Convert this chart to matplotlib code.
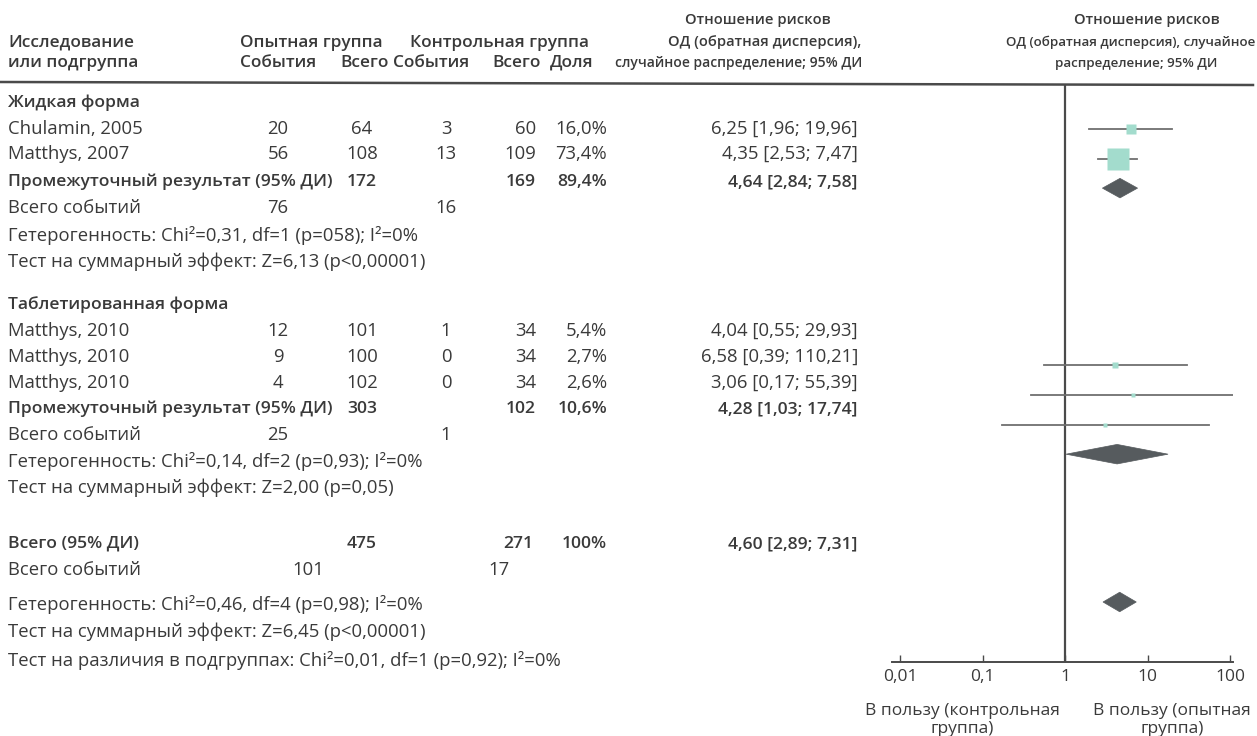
import matplotlib
matplotlib.use("Agg")
import matplotlib.pyplot as plt
from matplotlib.patches import Polygon
import numpy as np

# ---------------- data ----------------
studies = ["Chulamin, 2005", "Matthys, 2007", "Matthys, 2010", "Matthys, 2010", "Matthys, 2010"]
exp_events = [20, 56, 12, 9, 4]
exp_total = [64, 108, 101, 100, 102]
ctl_events = [3, 13, 1, 0, 0]
ctl_total = [60, 109, 34, 34, 34]
weights = [16.0, 73.4, 5.4, 2.7, 2.6]
rr = [6.25, 4.35, 4.04, 6.58, 3.06]
ci_lo = [1.96, 2.53, 0.55, 0.39, 0.17]
ci_hi = [19.96, 7.47, 29.93, 110.21, 55.39]
study_group = [0, 0, 1, 1, 1]

group_names = ["Жидкая форма", "Таблетированная форма"]
sub_exp_total = [172, 303]
sub_ctl_total = [169, 102]
sub_weight = [89.4, 10.6]
sub_rr = [4.64, 4.28]
sub_lo = [2.84, 1.03]
sub_hi = [7.58, 17.74]
sub_exp_events = [76, 25]
sub_ctl_events = [16, 1]
sub_het = ["Гетерогенность: Chi²=0,31, df=1 (p=058); I²=0%",
           "Гетерогенность: Chi²=0,14, df=2 (p=0,93); I²=0%"]
sub_test = ["Тест на суммарный эффект: Z=6,13 (p<0,00001)",
            "Тест на суммарный эффект: Z=2,00 (p=0,05)"]

tot_exp_total = 475
tot_ctl_total = 271
tot_weight = 100
tot_rr, tot_lo, tot_hi = 4.60, 2.89, 7.31
tot_exp_events = 101
tot_ctl_events = 17
tot_het = "Гетерогенность: Chi²=0,46, df=4 (p=0,98); I²=0%"
tot_test = "Тест на суммарный эффект: Z=6,45 (p<0,00001)"
sub_diff = "Тест на различия в подгруппах: Chi²=0,01, df=1 (p=0,92); I²=0%"

xticks = [0.01, 0.1, 1, 10, 100]
xtick_labels = ["0,01", "0,1", "1", "10", "100"]

# rows of the forest panel (row index units)
study_rows = [0, 1, 8, 9, 10]
sub_rows = [2, 11]
tot_row = 16

# ---------------- layout ----------------
W, H = 1257, 736
FONT = ["Open Sans", "DejaVu Sans"]
FS = 13.3
FSB = 12.6
FSL = 12.4   # left header
FSR = 10.0   # right-hand headers
TC = "#3a3a3a"

fig = plt.figure(figsize=(W / 100, H / 100), dpi=100)
fig.patch.set_facecolor("white")


def T(x, y, s, ha="left", weight="normal", size=FS):
    fig.text(x / W, 1 - y / H, s, ha=ha, va="center", fontsize=size,
             fontweight=weight, color=TC, family=FONT)


def fmt(v, d=2):
    return f"{v:.{d}f}".replace(".", ",")


def ci_text(r, lo, hi):
    return f"{fmt(r)} [{fmt(lo)}; {fmt(hi)}]"


def wtext(w):
    return (f"{w:.1f}".replace(".", ",") if w < 100 else f"{w:.0f}") + "%"


# column anchors (pixels)
X_NAME = 8
X_EE = 278
X_ET = 362
X_CE = 446
X_CT = 536
X_W = 607
X_CI = 858

# header
T(X_NAME, 43, "Исследование", weight="semibold", size=FSL)
T(X_NAME, 63, "или подгруппа", weight="semibold", size=FSL)
T(240, 43, "Опытная группа", weight="semibold", size=FSL)
T(410, 43, "Контрольная группа", weight="semibold", size=FSL)
T(240, 63, "События", weight="semibold", size=FSL)
T(340, 63, "Всего", weight="semibold", size=FSL)
T(393, 63, "События", weight="semibold", size=FSL)
T(492, 63, "Всего", weight="semibold", size=FSL)
T(550, 63, "Доля", weight="semibold", size=FSL)

T(758, 20, "Отношение рисков", ha="center", weight="semibold", size=FSR + 0.6)
T(765, 42, "ОД (обратная дисперсия),", ha="center", weight="semibold", size=FSR + 0.6)
T(862, 63, "случайное распределение; 95% ДИ", ha="right", weight="semibold", size=FSR)
T(1147, 20, "Отношение рисков", ha="center", weight="semibold", size=FSR + 0.6)
T(1255, 42, "ОД (обратная дисперсия), случайное", ha="right", weight="semibold", size=FSR - 0.4)
T(1136, 63, "распределение; 95% ДИ", ha="center", weight="semibold", size=FSR - 0.4)

fig.add_artist(plt.Line2D([0, 1253 / W], [1 - 82 / H, 1 - 85 / H], color="#4a4a4a", lw=1.8))

# text rows y (pixels)
group_header_y = [103, 305]
study_y = [129, 154, 331, 357, 383]
sub_y = [182, 409]
events_y = [208, 435]
het_y = [235, 462]
test_y = [262, 488]

for g in range(2):
    T(X_NAME, group_header_y[g], group_names[g], weight="semibold", size=FSB)
for i, s in enumerate(studies):
    y = study_y[i]
    T(X_NAME, y, s)
    T(X_EE, y, str(exp_events[i]), ha="center")
    T(X_ET, y, str(exp_total[i]), ha="center")
    T(X_CE, y, str(ctl_events[i]), ha="center")
    T(X_CT, y, str(ctl_total[i]), ha="right")
    T(X_W, y, wtext(weights[i]), ha="right")
    T(X_CI, y, ci_text(rr[i], ci_lo[i], ci_hi[i]), ha="right")
for g in range(2):
    y = sub_y[g]
    T(X_NAME, y, "Промежуточный результат (95% ДИ)", weight="semibold", size=FSB)
    T(X_ET, y, str(sub_exp_total[g]), ha="center", weight="semibold", size=FSB)
    T(X_CT, y, str(sub_ctl_total[g]), ha="right", weight="semibold", size=FSB)
    T(X_W, y, wtext(sub_weight[g]), ha="right", weight="semibold", size=FSB)
    T(X_CI, y, ci_text(sub_rr[g], sub_lo[g], sub_hi[g]), ha="right", weight="semibold", size=FSB)
    T(X_NAME, events_y[g], "Всего событий")
    T(X_EE, events_y[g], str(sub_exp_events[g]), ha="center")
    T(X_CE, events_y[g], str(sub_ctl_events[g]), ha="center")
    T(X_NAME, het_y[g], sub_het[g])
    T(X_NAME, test_y[g], sub_test[g])

y = 544
T(X_NAME, y, "Всего (95% ДИ)", weight="semibold", size=FSB)
T(X_ET, y, str(tot_exp_total), ha="center", weight="semibold", size=FSB)
T(X_CT - 3, y, str(tot_ctl_total), ha="right", weight="semibold", size=FSB)
T(X_W, y, wtext(tot_weight), ha="right", weight="semibold", size=FSB)
T(X_CI, y, ci_text(tot_rr, tot_lo, tot_hi), ha="right", weight="semibold", size=FSB)
T(X_NAME, 570, "Всего событий")
T(X_EE + 30, 570, str(tot_exp_events), ha="center")
T(X_CE + 53, 570, str(tot_ctl_events), ha="center")
T(X_NAME, 605, tot_het)
T(X_NAME, 632, tot_test)
T(X_NAME, 661, sub_diff)

# ---------------- forest panel ----------------
AX_L, AX_R, AX_T, AX_B = 892, 1233, 85, 662
ax = fig.add_axes([AX_L / W, 1 - AX_B / H, (AX_R - AX_L) / W, (AX_B - AX_T) / H])
ax.set_facecolor("none")
ax.set_xscale("log")
ax.set_xlim(10 ** ((AX_L - 1065) / 82.5), 10 ** ((AX_R - 1065) / 82.5))
row_px = 29.56
ax.set_ylim(tot_row + (AX_B - 602) / row_px, -(129 - AX_T) / row_px)

LINE_C = "#6f6f6f"
SQ_C = "#a3dccd"
DIA_C = "#565b5e"

for i in range(len(studies)):
    ax.plot([ci_lo[i], ci_hi[i]], [study_rows[i]] * 2, color=LINE_C, lw=1.3, zorder=2)
    ax.plot([rr[i]], [study_rows[i]], marker="s", ms=1.85 * np.sqrt(weights[i]),
            color=SQ_C, mec="none", zorder=3)

half_h = 0.33


def diamond(r, lo, hi, row):
    poly = Polygon([[lo, row], [r, row - half_h], [hi, row], [r, row + half_h]],
                   closed=True, fc=DIA_C, ec=DIA_C, lw=0.5, zorder=3)
    ax.add_patch(poly)


for g in range(2):
    diamond(sub_rr[g], sub_lo[g], sub_hi[g], sub_rows[g])
diamond(tot_rr, tot_lo, tot_hi, tot_row)

ax.axvline(1, color="#4a4a4a", lw=1.6, zorder=1)
for sp in ["top", "right", "left"]:
    ax.spines[sp].set_visible(False)
ax.spines["bottom"].set_color("#4a4a4a")
ax.spines["bottom"].set_linewidth(1.4)
ax.set_yticks([])
ax.set_xticks(xticks)
ax.set_xticklabels(xtick_labels)
ax.minorticks_off()
ax.tick_params(axis="x", direction="in", length=5, width=1, color="#4a4a4a",
               labelsize=FS - 0.8, labelcolor=TC, pad=5)
for lab in ax.get_xticklabels():
    lab.set_family(FONT)

T(962, 711, "В пользу (контрольная", ha="center", size=FS - 0.8)
T(962, 729, "группа)", ha="center", size=FS - 0.8)
T(1172, 711, "В пользу (опытная", ha="center", size=FS - 0.8)
T(1172, 729, "группа)", ha="center", size=FS - 0.8)

fig.savefig("out.png", dpi=100, facecolor="white")
